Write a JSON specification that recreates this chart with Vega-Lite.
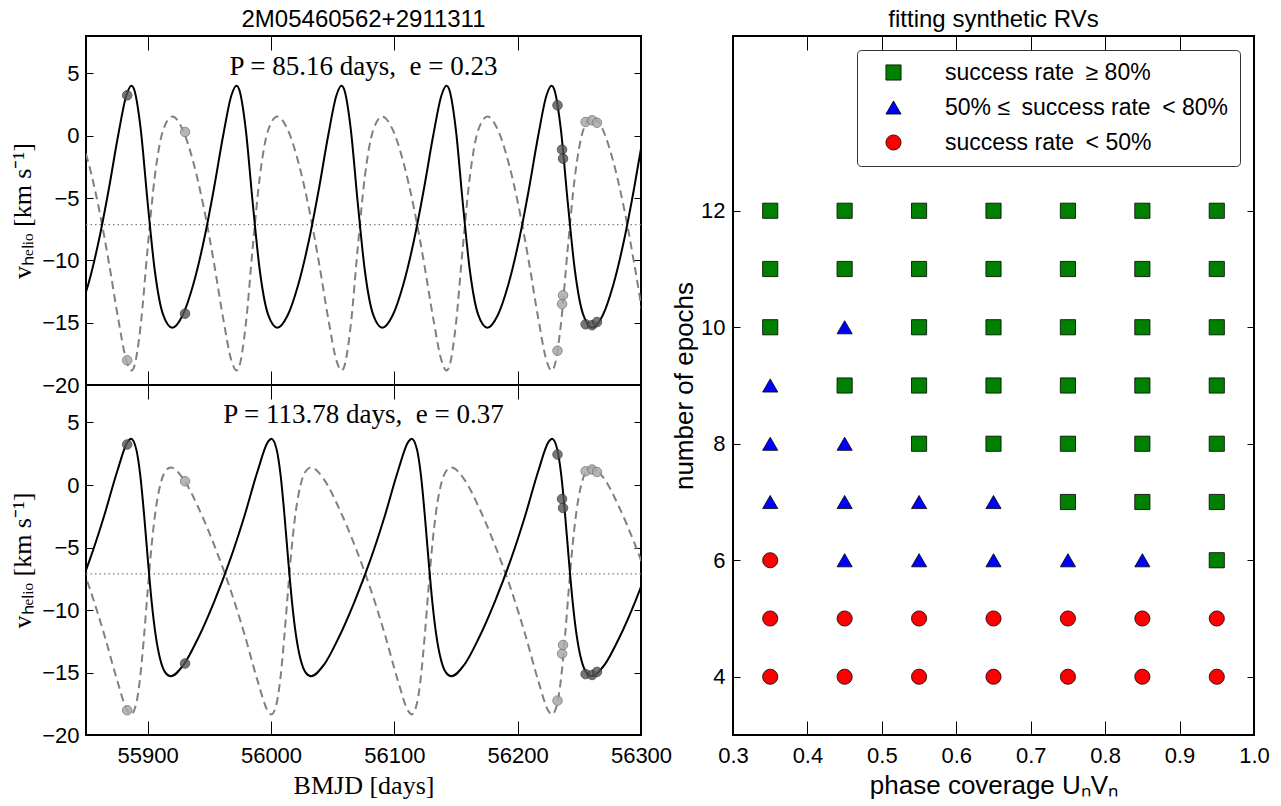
{
  "$schema": "https://vega.github.io/schema/vega-lite/v6.json",
  "padding": {"left": 8, "top": 6, "right": 5, "bottom": 0},
  "background": "white",
  "config": {
    "view": {"stroke": "black", "strokeWidth": 2},
    "axis": {"domain": false, "grid": false, "tickColor": "black", "tickWidth": 1, "labelColor": "black", "labelFontSize": 22, "labelFont": "Liberation Sans", "titleFontWeight": "normal", "titleColor": "black", "labelFlush": false, "labelOverlap": false, "labelBound": false},
    "title": {"fontSize": 24, "font": "Liberation Sans", "fontWeight": "normal", "color": "black", "offset": 4, "frame": "group", "anchor": "middle"}
  },
  "resolve": {"scale": {"color": "independent", "shape": "independent"}, "legend": {"color": "independent", "shape": "independent"}},
  "datasets": {
    "top": [
      {"t": 55843.10, "v1": -14.427, "v2": 0.511},
      {"t": 55851.75, "v1": -11.957, "v2": -2.082},
      {"t": 55860.41, "v1": -8.411, "v2": -5.805},
      {"t": 55868.65, "v1": -4.193, "v2": -10.234},
      {"t": 55876.16, "v1": 0.074, "v2": -14.715},
      {"t": 55882.84, "v1": 3.267, "v2": -18.067},
      {"t": 55886.81, "v1": 4.0, "v2": -18.837},
      {"t": 55888.79, "v1": 3.773, "v2": -18.599},
      {"t": 55894.33, "v1": 0.556, "v2": -15.221},
      {"t": 55899.87, "v1": -5.236, "v2": -9.139},
      {"t": 55905.82, "v1": -10.854, "v2": -3.240},
      {"t": 55912.50, "v1": -14.354, "v2": 0.435},
      {"t": 55920.02, "v1": -15.401, "v2": 1.534},
      {"t": 55928.26, "v1": -14.427, "v2": 0.511},
      {"t": 55936.91, "v1": -11.957, "v2": -2.082},
      {"t": 55945.57, "v1": -8.411, "v2": -5.805},
      {"t": 55953.81, "v1": -4.193, "v2": -10.234},
      {"t": 55961.32, "v1": 0.074, "v2": -14.715},
      {"t": 55968.00, "v1": 3.267, "v2": -18.067},
      {"t": 55971.97, "v1": 4.0, "v2": -18.837},
      {"t": 55973.95, "v1": 3.773, "v2": -18.599},
      {"t": 55979.49, "v1": 0.556, "v2": -15.221},
      {"t": 55985.03, "v1": -5.236, "v2": -9.139},
      {"t": 55990.98, "v1": -10.854, "v2": -3.240},
      {"t": 55997.66, "v1": -14.354, "v2": 0.435},
      {"t": 56005.18, "v1": -15.401, "v2": 1.534},
      {"t": 56013.42, "v1": -14.427, "v2": 0.511},
      {"t": 56022.07, "v1": -11.957, "v2": -2.082},
      {"t": 56030.73, "v1": -8.411, "v2": -5.805},
      {"t": 56038.97, "v1": -4.193, "v2": -10.234},
      {"t": 56046.48, "v1": 0.074, "v2": -14.715},
      {"t": 56053.16, "v1": 3.267, "v2": -18.067},
      {"t": 56057.13, "v1": 4.0, "v2": -18.837},
      {"t": 56059.11, "v1": 3.773, "v2": -18.599},
      {"t": 56064.65, "v1": 0.556, "v2": -15.221},
      {"t": 56070.19, "v1": -5.236, "v2": -9.139},
      {"t": 56076.14, "v1": -10.854, "v2": -3.240},
      {"t": 56082.82, "v1": -14.354, "v2": 0.435},
      {"t": 56090.34, "v1": -15.401, "v2": 1.534},
      {"t": 56098.58, "v1": -14.427, "v2": 0.511},
      {"t": 56107.23, "v1": -11.957, "v2": -2.082},
      {"t": 56115.89, "v1": -8.411, "v2": -5.805},
      {"t": 56124.13, "v1": -4.193, "v2": -10.234},
      {"t": 56131.64, "v1": 0.074, "v2": -14.715},
      {"t": 56138.32, "v1": 3.267, "v2": -18.067},
      {"t": 56142.29, "v1": 4.0, "v2": -18.837},
      {"t": 56144.27, "v1": 3.773, "v2": -18.599},
      {"t": 56149.81, "v1": 0.556, "v2": -15.221},
      {"t": 56155.35, "v1": -5.236, "v2": -9.139},
      {"t": 56161.30, "v1": -10.854, "v2": -3.240},
      {"t": 56167.98, "v1": -14.354, "v2": 0.435},
      {"t": 56175.50, "v1": -15.401, "v2": 1.534},
      {"t": 56183.74, "v1": -14.427, "v2": 0.511},
      {"t": 56192.39, "v1": -11.957, "v2": -2.082},
      {"t": 56201.05, "v1": -8.411, "v2": -5.805},
      {"t": 56209.29, "v1": -4.193, "v2": -10.234},
      {"t": 56216.80, "v1": 0.074, "v2": -14.715},
      {"t": 56223.48, "v1": 3.267, "v2": -18.067},
      {"t": 56227.45, "v1": 4.0, "v2": -18.837},
      {"t": 56229.43, "v1": 3.773, "v2": -18.599},
      {"t": 56234.97, "v1": 0.556, "v2": -15.221},
      {"t": 56240.51, "v1": -5.236, "v2": -9.139},
      {"t": 56246.46, "v1": -10.854, "v2": -3.240},
      {"t": 56253.14, "v1": -14.354, "v2": 0.435},
      {"t": 56260.66, "v1": -15.401, "v2": 1.534},
      {"t": 56268.90, "v1": -14.427, "v2": 0.511},
      {"t": 56277.55, "v1": -11.957, "v2": -2.082},
      {"t": 56286.21, "v1": -8.411, "v2": -5.805},
      {"t": 56294.45, "v1": -4.193, "v2": -10.234},
      {"t": 56301.96, "v1": 0.074, "v2": -14.715}
    ],
    "bottom": [
      {"t": 55840.11, "v1": -9.341, "v2": -4.790},
      {"t": 55852.94, "v1": -6.013, "v2": -8.251},
      {"t": 55864.88, "v1": -2.414, "v2": -11.994},
      {"t": 55875.26, "v1": 1.080, "v2": -15.628},
      {"t": 55883.84, "v1": 3.466, "v2": -18.109},
      {"t": 55886.52, "v1": 3.700, "v2": -18.352},
      {"t": 55890.87, "v1": 2.810, "v2": -17.427},
      {"t": 55893.99, "v1": 0.783, "v2": -15.319},
      {"t": 55897.00, "v1": -2.259, "v2": -12.155},
      {"t": 55900.01, "v1": -5.816, "v2": -8.456},
      {"t": 55903.13, "v1": -9.242, "v2": -4.893},
      {"t": 55906.49, "v1": -12.026, "v2": -1.997},
      {"t": 55910.16, "v1": -13.938, "v2": -0.009},
      {"t": 55914.23, "v1": -14.984, "v2": 1.079},
      {"t": 55918.75, "v1": -15.300, "v2": 1.408},
      {"t": 55929.13, "v1": -14.384, "v2": 0.455},
      {"t": 55941.06, "v1": -12.216, "v2": -1.800},
      {"t": 55953.89, "v1": -9.341, "v2": -4.790},
      {"t": 55966.72, "v1": -6.013, "v2": -8.251},
      {"t": 55978.66, "v1": -2.414, "v2": -11.994},
      {"t": 55989.04, "v1": 1.080, "v2": -15.628},
      {"t": 55997.62, "v1": 3.466, "v2": -18.109},
      {"t": 56000.30, "v1": 3.700, "v2": -18.352},
      {"t": 56004.65, "v1": 2.810, "v2": -17.427},
      {"t": 56007.78, "v1": 0.783, "v2": -15.319},
      {"t": 56010.78, "v1": -2.259, "v2": -12.155},
      {"t": 56013.79, "v1": -5.816, "v2": -8.456},
      {"t": 56016.91, "v1": -9.242, "v2": -4.893},
      {"t": 56020.27, "v1": -12.026, "v2": -1.997},
      {"t": 56023.94, "v1": -13.938, "v2": -0.009},
      {"t": 56028.01, "v1": -14.984, "v2": 1.079},
      {"t": 56032.53, "v1": -15.300, "v2": 1.408},
      {"t": 56042.91, "v1": -14.384, "v2": 0.455},
      {"t": 56054.84, "v1": -12.216, "v2": -1.800},
      {"t": 56067.67, "v1": -9.341, "v2": -4.790},
      {"t": 56080.50, "v1": -6.013, "v2": -8.251},
      {"t": 56092.44, "v1": -2.414, "v2": -11.994},
      {"t": 56102.82, "v1": 1.080, "v2": -15.628},
      {"t": 56111.40, "v1": 3.466, "v2": -18.109},
      {"t": 56114.08, "v1": 3.700, "v2": -18.352},
      {"t": 56118.43, "v1": 2.810, "v2": -17.427},
      {"t": 56121.56, "v1": 0.783, "v2": -15.319},
      {"t": 56124.56, "v1": -2.259, "v2": -12.155},
      {"t": 56127.57, "v1": -5.816, "v2": -8.456},
      {"t": 56130.69, "v1": -9.242, "v2": -4.893},
      {"t": 56134.05, "v1": -12.026, "v2": -1.997},
      {"t": 56137.72, "v1": -13.938, "v2": -0.009},
      {"t": 56141.79, "v1": -14.984, "v2": 1.079},
      {"t": 56146.31, "v1": -15.300, "v2": 1.408},
      {"t": 56156.69, "v1": -14.384, "v2": 0.455},
      {"t": 56168.62, "v1": -12.216, "v2": -1.800},
      {"t": 56181.45, "v1": -9.341, "v2": -4.790},
      {"t": 56194.28, "v1": -6.013, "v2": -8.251},
      {"t": 56206.22, "v1": -2.414, "v2": -11.994},
      {"t": 56216.60, "v1": 1.080, "v2": -15.628},
      {"t": 56225.18, "v1": 3.466, "v2": -18.109},
      {"t": 56227.86, "v1": 3.700, "v2": -18.352},
      {"t": 56232.21, "v1": 2.810, "v2": -17.427},
      {"t": 56235.34, "v1": 0.783, "v2": -15.319},
      {"t": 56238.34, "v1": -2.259, "v2": -12.155},
      {"t": 56241.35, "v1": -5.816, "v2": -8.456},
      {"t": 56244.47, "v1": -9.242, "v2": -4.893},
      {"t": 56247.83, "v1": -12.026, "v2": -1.997},
      {"t": 56251.50, "v1": -13.938, "v2": -0.009},
      {"t": 56255.57, "v1": -14.984, "v2": 1.079},
      {"t": 56260.09, "v1": -15.300, "v2": 1.408},
      {"t": 56270.47, "v1": -14.384, "v2": 0.455},
      {"t": 56282.40, "v1": -12.216, "v2": -1.800},
      {"t": 56295.23, "v1": -9.341, "v2": -4.790},
      {"t": 56308.06, "v1": -6.013, "v2": -8.251}
    ],
    "obs": [
      {"t": 55883.4, "v1": 3.24, "v2": -18.02},
      {"t": 55930.3, "v1": -14.28, "v2": 0.30},
      {"t": 56232.3, "v1": 2.44, "v2": -17.25},
      {"t": 56236.0, "v1": -1.12, "v2": -13.5},
      {"t": 56236.8, "v1": -1.84, "v2": -12.8},
      {"t": 56255.1, "v1": -15.13, "v2": 1.10},
      {"t": 56260.3, "v1": -15.20, "v2": 1.24},
      {"t": 56264.3, "v1": -14.95, "v2": 1.04}
    ],
    "grid": [
      {"coverage": 0.35, "epochs": 12, "rate": "success rate\u2002≥ 80%"},
      {"coverage": 0.45, "epochs": 12, "rate": "success rate\u2002≥ 80%"},
      {"coverage": 0.55, "epochs": 12, "rate": "success rate\u2002≥ 80%"},
      {"coverage": 0.65, "epochs": 12, "rate": "success rate\u2002≥ 80%"},
      {"coverage": 0.75, "epochs": 12, "rate": "success rate\u2002≥ 80%"},
      {"coverage": 0.85, "epochs": 12, "rate": "success rate\u2002≥ 80%"},
      {"coverage": 0.95, "epochs": 12, "rate": "success rate\u2002≥ 80%"},
      {"coverage": 0.35, "epochs": 11, "rate": "success rate\u2002≥ 80%"},
      {"coverage": 0.45, "epochs": 11, "rate": "success rate\u2002≥ 80%"},
      {"coverage": 0.55, "epochs": 11, "rate": "success rate\u2002≥ 80%"},
      {"coverage": 0.65, "epochs": 11, "rate": "success rate\u2002≥ 80%"},
      {"coverage": 0.75, "epochs": 11, "rate": "success rate\u2002≥ 80%"},
      {"coverage": 0.85, "epochs": 11, "rate": "success rate\u2002≥ 80%"},
      {"coverage": 0.95, "epochs": 11, "rate": "success rate\u2002≥ 80%"},
      {"coverage": 0.35, "epochs": 10, "rate": "success rate\u2002≥ 80%"},
      {"coverage": 0.45, "epochs": 10, "rate": "50% ≤\u2002success rate\u2002< 80%"},
      {"coverage": 0.55, "epochs": 10, "rate": "success rate\u2002≥ 80%"},
      {"coverage": 0.65, "epochs": 10, "rate": "success rate\u2002≥ 80%"},
      {"coverage": 0.75, "epochs": 10, "rate": "success rate\u2002≥ 80%"},
      {"coverage": 0.85, "epochs": 10, "rate": "success rate\u2002≥ 80%"},
      {"coverage": 0.95, "epochs": 10, "rate": "success rate\u2002≥ 80%"},
      {"coverage": 0.35, "epochs": 9, "rate": "50% ≤\u2002success rate\u2002< 80%"},
      {"coverage": 0.45, "epochs": 9, "rate": "success rate\u2002≥ 80%"},
      {"coverage": 0.55, "epochs": 9, "rate": "success rate\u2002≥ 80%"},
      {"coverage": 0.65, "epochs": 9, "rate": "success rate\u2002≥ 80%"},
      {"coverage": 0.75, "epochs": 9, "rate": "success rate\u2002≥ 80%"},
      {"coverage": 0.85, "epochs": 9, "rate": "success rate\u2002≥ 80%"},
      {"coverage": 0.95, "epochs": 9, "rate": "success rate\u2002≥ 80%"},
      {"coverage": 0.35, "epochs": 8, "rate": "50% ≤\u2002success rate\u2002< 80%"},
      {"coverage": 0.45, "epochs": 8, "rate": "50% ≤\u2002success rate\u2002< 80%"},
      {"coverage": 0.55, "epochs": 8, "rate": "success rate\u2002≥ 80%"},
      {"coverage": 0.65, "epochs": 8, "rate": "success rate\u2002≥ 80%"},
      {"coverage": 0.75, "epochs": 8, "rate": "success rate\u2002≥ 80%"},
      {"coverage": 0.85, "epochs": 8, "rate": "success rate\u2002≥ 80%"},
      {"coverage": 0.95, "epochs": 8, "rate": "success rate\u2002≥ 80%"},
      {"coverage": 0.35, "epochs": 7, "rate": "50% ≤\u2002success rate\u2002< 80%"},
      {"coverage": 0.45, "epochs": 7, "rate": "50% ≤\u2002success rate\u2002< 80%"},
      {"coverage": 0.55, "epochs": 7, "rate": "50% ≤\u2002success rate\u2002< 80%"},
      {"coverage": 0.65, "epochs": 7, "rate": "50% ≤\u2002success rate\u2002< 80%"},
      {"coverage": 0.75, "epochs": 7, "rate": "success rate\u2002≥ 80%"},
      {"coverage": 0.85, "epochs": 7, "rate": "success rate\u2002≥ 80%"},
      {"coverage": 0.95, "epochs": 7, "rate": "success rate\u2002≥ 80%"},
      {"coverage": 0.35, "epochs": 6, "rate": "success rate\u2002< 50%"},
      {"coverage": 0.45, "epochs": 6, "rate": "50% ≤\u2002success rate\u2002< 80%"},
      {"coverage": 0.55, "epochs": 6, "rate": "50% ≤\u2002success rate\u2002< 80%"},
      {"coverage": 0.65, "epochs": 6, "rate": "50% ≤\u2002success rate\u2002< 80%"},
      {"coverage": 0.75, "epochs": 6, "rate": "50% ≤\u2002success rate\u2002< 80%"},
      {"coverage": 0.85, "epochs": 6, "rate": "50% ≤\u2002success rate\u2002< 80%"},
      {"coverage": 0.95, "epochs": 6, "rate": "success rate\u2002≥ 80%"},
      {"coverage": 0.35, "epochs": 5, "rate": "success rate\u2002< 50%"},
      {"coverage": 0.45, "epochs": 5, "rate": "success rate\u2002< 50%"},
      {"coverage": 0.55, "epochs": 5, "rate": "success rate\u2002< 50%"},
      {"coverage": 0.65, "epochs": 5, "rate": "success rate\u2002< 50%"},
      {"coverage": 0.75, "epochs": 5, "rate": "success rate\u2002< 50%"},
      {"coverage": 0.85, "epochs": 5, "rate": "success rate\u2002< 50%"},
      {"coverage": 0.95, "epochs": 5, "rate": "success rate\u2002< 50%"},
      {"coverage": 0.35, "epochs": 4, "rate": "success rate\u2002< 50%"},
      {"coverage": 0.45, "epochs": 4, "rate": "success rate\u2002< 50%"},
      {"coverage": 0.55, "epochs": 4, "rate": "success rate\u2002< 50%"},
      {"coverage": 0.65, "epochs": 4, "rate": "success rate\u2002< 50%"},
      {"coverage": 0.75, "epochs": 4, "rate": "success rate\u2002< 50%"},
      {"coverage": 0.85, "epochs": 4, "rate": "success rate\u2002< 50%"},
      {"coverage": 0.95, "epochs": 4, "rate": "success rate\u2002< 50%"}
    ]
  },
  "spacing": -3,
  "hconcat": [
    {
      "bounds": "flush",
      "spacing": 0,
      "vconcat": [
        {
          "width": 555,
          "height": 349,
          "title": {"text": "2M05460562+2911311"},
          "data": {"name": "top"},
          "layer": [
            {
              "data": {"values": [{"gamma": -7.14}]},
              "mark": {"type": "rule", "color": "#808080", "strokeDash": [1.5, 3], "strokeWidth": 1.2},
              "encoding": {"y": {"field": "gamma", "type": "quantitative", "scale": {"domain": [-20, 8], "nice": false, "zero": false}, "axis": null}}
            },
            {
              "mark": {"type": "line", "color": "#808080", "strokeWidth": 2, "strokeDash": [8, 5], "interpolate": "monotone", "clip": true},
              "encoding": {
                "x": {"field": "t", "type": "quantitative", "scale": {"domain": [55850, 56300], "nice": false, "zero": false}, "axis": null},
                "y": {"field": "v2", "type": "quantitative", "scale": {"domain": [-20, 8], "nice": false, "zero": false}, "axis": null}
              }
            },
            {
              "mark": {"type": "line", "color": "black", "strokeWidth": 2, "interpolate": "monotone", "clip": true},
              "encoding": {
                "x": {"field": "t", "type": "quantitative", "scale": {"domain": [55850, 56300], "nice": false, "zero": false},
                      "axis": {"orient": "bottom", "values": [55900, 56000, 56100, 56200, 56300], "labels": false, "tickSize": -14, "title": null}},
                "y": {"field": "v1", "type": "quantitative", "scale": {"domain": [-20, 8], "nice": false, "zero": false},
                      "axis": {"orient": "left", "values": [-20, -15, -10, -5, 0, 5], "format": "d", "tickSize": -7, "labelPadding": 14, "title": "vₕₑₗᵢₒ [km s⁻¹]", "titleFont": "Liberation Serif", "titleFontSize": 26, "titlePadding": 6}}
              }
            },
            {
              "data": {"name": "obs"},
              "mark": {"type": "circle", "size": 90, "fill": "#aaaaaa", "stroke": "#777777", "strokeWidth": 1, "opacity": 0.85},
              "encoding": {
                "x": {"field": "t", "type": "quantitative", "scale": {"domain": [55850, 56300], "nice": false, "zero": false}, "axis": null},
                "y": {"field": "v2", "type": "quantitative", "scale": {"domain": [-20, 8], "nice": false, "zero": false}, "axis": null}
              }
            },
            {
              "data": {"name": "obs"},
              "mark": {"type": "circle", "size": 90, "fill": "#555555", "stroke": "#333333", "strokeWidth": 1, "opacity": 0.8},
              "encoding": {
                "x": {"field": "t", "type": "quantitative", "scale": {"domain": [55850, 56300], "nice": false, "zero": false}, "axis": null},
                "y": {"field": "v1", "type": "quantitative", "scale": {"domain": [-20, 8], "nice": false, "zero": false}, "axis": null}
              }
            },
            {
              "data": {"values": [{"label": "P = 85.16 days,\u2002e = 0.23"}]},
              "mark": {"type": "text", "font": "Liberation Serif", "fontSize": 27, "align": "center", "baseline": "middle", "color": "black"},
              "encoding": {
                "text": {"field": "label"},
                "x": {"datum": 56075, "type": "quantitative", "scale": {"domain": [55850, 56300], "nice": false, "zero": false}, "axis": null},
                "y": {"datum": 5.5, "type": "quantitative", "scale": {"domain": [-20, 8], "nice": false, "zero": false}, "axis": null}
              }
            },
            {
              "data": {"name": "obs"},
              "mark": {"type": "point", "opacity": 0},
              "encoding": {
                "x": {"field": "t", "type": "quantitative", "scale": {"domain": [55850, 56300], "nice": false, "zero": false},
                      "axis": {"orient": "top", "values": [55900, 56000, 56100, 56200, 56300], "labels": false, "tickSize": -14, "title": null}},
                "y": {"field": "v1", "type": "quantitative", "scale": {"domain": [-20, 8], "nice": false, "zero": false},
                      "axis": {"orient": "right", "values": [-20, -15, -10, -5, 0, 5], "labels": false, "tickSize": -7, "title": null}}
              }
            }
          ]
        },
        {
          "width": 555,
          "height": 350,
          "data": {"name": "bottom"},
          "layer": [
            {
              "data": {"values": [{"gamma": -7.11}]},
              "mark": {"type": "rule", "color": "#808080", "strokeDash": [1.5, 3], "strokeWidth": 1.2},
              "encoding": {"y": {"field": "gamma", "type": "quantitative", "scale": {"domain": [-20, 8], "nice": false, "zero": false}, "axis": null}}
            },
            {
              "mark": {"type": "line", "color": "#808080", "strokeWidth": 2, "strokeDash": [8, 5], "interpolate": "monotone", "clip": true},
              "encoding": {
                "x": {"field": "t", "type": "quantitative", "scale": {"domain": [55850, 56300], "nice": false, "zero": false}, "axis": null},
                "y": {"field": "v2", "type": "quantitative", "scale": {"domain": [-20, 8], "nice": false, "zero": false}, "axis": null}
              }
            },
            {
              "mark": {"type": "line", "color": "black", "strokeWidth": 2, "interpolate": "monotone", "clip": true},
              "encoding": {
                "x": {"field": "t", "type": "quantitative", "scale": {"domain": [55850, 56300], "nice": false, "zero": false},
                      "axis": {"orient": "bottom", "values": [55900, 56000, 56100, 56200, 56300], "format": "d", "tickSize": -14, "labelPadding": 24, "title": "BMJD [days]", "titleFont": "Liberation Serif", "titleFontSize": 26, "titlePadding": 6}},
                "y": {"field": "v1", "type": "quantitative", "scale": {"domain": [-20, 8], "nice": false, "zero": false},
                      "axis": {"orient": "left", "values": [-20, -15, -10, -5, 0, 5], "format": "d", "tickSize": -7, "labelPadding": 14, "title": "vₕₑₗᵢₒ [km s⁻¹]", "titleFont": "Liberation Serif", "titleFontSize": 26, "titlePadding": 6}}
              }
            },
            {
              "data": {"name": "obs"},
              "mark": {"type": "circle", "size": 90, "fill": "#aaaaaa", "stroke": "#777777", "strokeWidth": 1, "opacity": 0.85},
              "encoding": {
                "x": {"field": "t", "type": "quantitative", "scale": {"domain": [55850, 56300], "nice": false, "zero": false}, "axis": null},
                "y": {"field": "v2", "type": "quantitative", "scale": {"domain": [-20, 8], "nice": false, "zero": false}, "axis": null}
              }
            },
            {
              "data": {"name": "obs"},
              "mark": {"type": "circle", "size": 90, "fill": "#555555", "stroke": "#333333", "strokeWidth": 1, "opacity": 0.8},
              "encoding": {
                "x": {"field": "t", "type": "quantitative", "scale": {"domain": [55850, 56300], "nice": false, "zero": false}, "axis": null},
                "y": {"field": "v1", "type": "quantitative", "scale": {"domain": [-20, 8], "nice": false, "zero": false}, "axis": null}
              }
            },
            {
              "data": {"values": [{"label": "P = 113.78 days,\u2002e = 0.37"}]},
              "mark": {"type": "text", "font": "Liberation Serif", "fontSize": 27, "align": "center", "baseline": "middle", "color": "black"},
              "encoding": {
                "text": {"field": "label"},
                "x": {"datum": 56075, "type": "quantitative", "scale": {"domain": [55850, 56300], "nice": false, "zero": false}, "axis": null},
                "y": {"datum": 5.6, "type": "quantitative", "scale": {"domain": [-20, 8], "nice": false, "zero": false}, "axis": null}
              }
            },
            {
              "data": {"name": "obs"},
              "mark": {"type": "point", "opacity": 0},
              "encoding": {
                "x": {"field": "t", "type": "quantitative", "scale": {"domain": [55850, 56300], "nice": false, "zero": false},
                      "axis": {"orient": "top", "values": [55900, 56000, 56100, 56200, 56300], "labels": false, "tickSize": -14, "title": null}},
                "y": {"field": "v1", "type": "quantitative", "scale": {"domain": [-20, 8], "nice": false, "zero": false},
                      "axis": {"orient": "right", "values": [-20, -15, -10, -5, 0, 5], "labels": false, "tickSize": -7, "title": null}}
              }
            }
          ]
        }
      ]
    },
    {
      "width": 521,
      "height": 699,
      "title": {"text": "fitting synthetic RVs"},
      "data": {"name": "grid"},
      "layer": [
        {
          "mark": {"type": "point", "filled": true, "size": 230, "stroke": "black", "strokeWidth": 0.8, "opacity": 1},
          "encoding": {
            "x": {"field": "coverage", "type": "quantitative", "scale": {"domain": [0.3, 1.0], "nice": false, "zero": false},
                  "axis": {"orient": "bottom", "values": [0.3, 0.4, 0.5, 0.6, 0.7, 0.8, 0.9, 1.0], "format": ".1f", "tickSize": -14, "labelPadding": 24, "title": "phase coverage UₙVₙ", "titleFont": "Liberation Sans", "titleFontSize": 26, "titlePadding": 6}},
            "y": {"field": "epochs", "type": "quantitative", "scale": {"domain": [3, 15], "nice": false, "zero": false},
                  "axis": {"orient": "left", "values": [4, 6, 8, 10, 12], "format": "d", "tickSize": -7, "labelPadding": 15, "title": "number of epochs", "titleFont": "Liberation Sans", "titleFontSize": 26, "titlePadding": 3}},
            "color": {"field": "rate", "type": "nominal",
                      "scale": {"domain": ["success rate\u2002≥ 80%", "50% ≤\u2002success rate\u2002< 80%", "success rate\u2002< 50%"], "range": ["#008000", "#0000ff", "#ff0000"]},
                      "legend": {"title": null, "orient": "top-right", "offset": 14, "padding": 11, "strokeColor": "#333333", "cornerRadius": 4, "fillColor": "white", "labelFontSize": 23, "labelFont": "Liberation Sans", "labelColor": "black", "symbolSize": 230, "symbolOffset": 14, "labelOffset": 40, "rowPadding": 11, "symbolStrokeColor": "black", "symbolStrokeWidth": 0.8, "labelLimit": 400}},
            "shape": {"field": "rate", "type": "nominal",
                      "scale": {"domain": ["success rate\u2002≥ 80%", "50% ≤\u2002success rate\u2002< 80%", "success rate\u2002< 50%"], "range": ["square", "triangle-up", "circle"]},
                      "legend": {"title": null, "orient": "top-right", "offset": 14, "padding": 11, "strokeColor": "#333333", "cornerRadius": 4, "fillColor": "white", "labelFontSize": 23, "labelFont": "Liberation Sans", "labelColor": "black", "symbolSize": 230, "symbolOffset": 14, "labelOffset": 40, "rowPadding": 11, "symbolStrokeColor": "black", "symbolStrokeWidth": 0.8, "labelLimit": 400}}
          }
        },
        {
          "mark": {"type": "point", "opacity": 0},
          "encoding": {
            "x": {"field": "coverage", "type": "quantitative", "scale": {"domain": [0.3, 1.0], "nice": false, "zero": false},
                  "axis": {"orient": "top", "values": [0.3, 0.4, 0.5, 0.6, 0.7, 0.8, 0.9, 1.0], "labels": false, "tickSize": -14, "title": null}},
            "y": {"field": "epochs", "type": "quantitative", "scale": {"domain": [3, 15], "nice": false, "zero": false},
                  "axis": {"orient": "right", "values": [4, 6, 8, 10, 12], "labels": false, "tickSize": -7, "title": null}}
          }
        }
      ]
    }
  ]
}
